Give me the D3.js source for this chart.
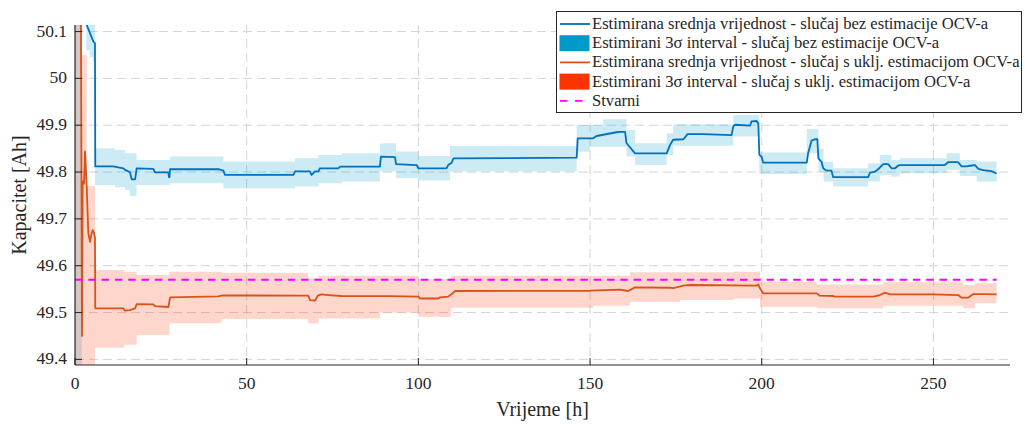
<!DOCTYPE html>
<html><head><meta charset="utf-8">
<script src="https://cdn.jsdelivr.net/npm/d3@7"></script>
<style>
html,body{margin:0;padding:0;background:#fff;}
#wrap{position:relative;width:1025px;height:428px;overflow:hidden;}
svg{position:absolute;left:0;top:0;}
.lbl{position:absolute;font-family:'Liberation Serif';line-height:1;white-space:nowrap;color:#262626;}
</style>
</head><body>
<div id="wrap"><svg id="chart" width="1025" height="428"></svg></div>
<script>
// ---------- data ----------
const xTicks = [0, 50, 100, 150, 200, 250];
const xTickLabels = ["0", "50", "100", "150", "200", "250"];
const yTicks = [49.4, 49.5, 49.6, 49.7, 49.8, 49.9, 50.0, 50.1];
const yTickLabels = ["49.4", "49.5", "49.6", "49.7", "49.8", "49.9", "50", "50.1"];

// mean, case without OCV estimation
const blueT = [0, 2.0, 3.4, 5.33, 5.82, 5.9, 11.16, 14.08, 14.56, 16.0, 16.5, 17.5, 17.96, 22.8, 23.3, 27.2, 27.35, 27.5, 27.7, 41.7, 43.2, 43.7, 63.6, 64.1, 68.4, 68.9, 69.9, 70.9, 71.3, 76.7, 77.2, 88.8, 89.1, 93.2, 93.5, 99.5, 100.0, 108.2, 108.7, 109.7, 110.2, 146.1, 146.4, 150.9, 151.9, 157.7, 158.7, 160.2, 160.6, 163.1, 172.3, 173.3, 174.2, 177.2, 178.4, 183.0, 191.2, 191.7, 192.2, 196.6, 197.0, 198.5, 199.0, 199.3, 200.0, 200.4, 213.1, 213.5, 214.5, 215.5, 216.2, 216.5, 217.4, 217.9, 218.9, 220.3, 220.8, 231.0, 231.5, 233.0, 233.9, 235.4, 236.8, 237.8, 238.8, 239.8, 240.2, 253.3, 254.3, 257.2, 258.2, 259.7, 261.1, 262.1, 263.1, 264.5, 266.9, 268.4];
const blueV = [50.6, 50.3, 50.114, 50.079, 50.075, 49.812, 49.812, 49.808, 49.8045, 49.80, 49.7845, 49.7845, 49.808, 49.8066, 49.7995, 49.7995, 49.789, 49.789, 49.806, 49.806, 49.803, 49.7938, 49.7938, 49.8016, 49.8016, 49.7938, 49.8016, 49.8016, 49.808, 49.808, 49.8116, 49.8116, 49.833, 49.832, 49.817, 49.815, 49.808, 49.808, 49.815, 49.82, 49.829, 49.831, 49.872, 49.872, 49.877, 49.885, 49.886, 49.886, 49.862, 49.840, 49.840, 49.858, 49.869, 49.870, 49.881, 49.881, 49.879, 49.897, 49.901, 49.899, 49.908, 49.909, 49.904, 49.837, 49.832, 49.820, 49.820, 49.840, 49.867, 49.870, 49.870, 49.829, 49.822, 49.808, 49.803, 49.803, 49.789, 49.789, 49.799, 49.801, 49.806, 49.817, 49.817, 49.808, 49.808, 49.814, 49.815, 49.815, 49.821, 49.821, 49.812, 49.812, 49.814, 49.815, 49.807, 49.804, 49.802, 49.797];

// 3-sigma band, case without OCV estimation (step starts)
const blueBandT = [0, 1.95, 3.3, 4.3, 5.3, 5.82, 11.65, 14.56, 16.0, 17.96, 27.7, 43.2, 64.1, 70.9, 77.7, 88.8, 93.5, 100.0, 109.2, 146.1, 150.0, 153.8, 160.6, 163.1, 172.3, 174.2, 191.7, 199.3, 213.1, 216.5, 218.0, 220.8, 231.0, 234.4, 237.8, 240.2, 253.8, 257.7, 262.6, 268.4];
const blueLo = [49.0, 50.3, 50.06, 50.045, 50.036, 49.7725, 49.7675, 49.7618, 49.749, 49.7725, 49.776, 49.7653, 49.7689, 49.776, 49.7796, 49.801, 49.7867, 49.7817, 49.801, 49.8436, 49.854, 49.854, 49.833, 49.815, 49.8365, 49.856, 49.8757, 49.7959, 49.84, 49.80, 49.7796, 49.7689, 49.7796, 49.7938, 49.79, 49.7974, 49.8045, 49.7916, 49.7796, 49.7796];
const blueHi = [51.0, 50.6, 50.6, 50.6, 50.6, 49.851, 49.847, 49.840, 49.840, 49.826, 49.833, 49.8223, 49.8294, 49.8365, 49.8401, 49.8615, 49.844, 49.8344, 49.8558, 49.9007, 49.9007, 49.9128, 49.89, 49.8616, 49.8828, 49.902, 49.922, 49.8415, 49.892, 49.85, 49.822, 49.808, 49.8187, 49.8365, 49.8258, 49.8294, 49.8401, 49.8258, 49.8223, 49.8223];

// mean, case with OCV estimation
const redT = [0, 1.6, 2.04, 2.24, 2.62, 2.91, 3.41, 3.87, 4.37, 4.86, 5.15, 5.53, 5.82, 5.9, 14.08, 14.56, 16.0, 17.5, 17.96, 22.8, 23.3, 27.2, 27.7, 41.7, 42.7, 43.2, 67.9, 68.4, 69.9, 70.7, 71.8, 73.8, 77.7, 91.7, 100.0, 100.5, 105.8, 106.3, 108.7, 109.7, 110.7, 150.0, 158.7, 161.1, 163.1, 173.3, 174.2, 177.2, 179.1, 198.5, 199.0, 199.5, 200.4, 216.0, 216.9, 220.8, 221.3, 232.5, 234.4, 235.9, 237.3, 250.0, 257.2, 258.2, 260.1, 261.6, 264.5, 268.4];
const redV = [50.6, 50.4, 49.45, 49.78, 49.775, 49.844, 49.769, 49.67, 49.651, 49.67, 49.676, 49.67, 49.66, 49.509, 49.509, 49.504, 49.5053, 49.509, 49.518, 49.5175, 49.5139, 49.5118, 49.5324, 49.5345, 49.536, 49.5367, 49.536, 49.5267, 49.5253, 49.536, 49.5388, 49.5374, 49.5353, 49.535, 49.534, 49.530, 49.530, 49.5324, 49.534, 49.5395, 49.546, 49.5466, 49.5488, 49.546, 49.5538, 49.553, 49.5523, 49.5574, 49.5588, 49.5574, 49.5602, 49.5516, 49.541, 49.541, 49.536, 49.5353, 49.5339, 49.5339, 49.5374, 49.5424, 49.5388, 49.5388, 49.5374, 49.5317, 49.5317, 49.5395, 49.5395, 49.5388];

// 3-sigma band, case with OCV estimation (step starts)
const redBandT = [0, 1.95, 3.41, 5.82, 14.3, 17.96, 27.5, 42.7, 67.9, 70.9, 88.8, 100.0, 109.5, 151.0, 161.6, 176.2, 191.7, 199.5, 216.0, 235.4, 258.7, 262.1, 268.4];
const redLo = [49.0, 49.0, 49.0, 49.425, 49.431, 49.452, 49.477, 49.486, 49.477, 49.4875, 49.5003, 49.491, 49.5103, 49.5146, 49.5232, 49.5267, 49.530, 49.5125, 49.509, 49.5146, 49.509, 49.5196, 49.5196];
const redHi = [51.0, 50.05, 49.77, 49.591, 49.587, 49.58, 49.587, 49.585, 49.573, 49.5787, 49.5787, 49.5716, 49.5787, 49.5787, 49.5858, 49.5858, 49.587, 49.566, 49.560, 49.5645, 49.559, 49.5623, 49.5623];

// true capacity
const trueT = [0, 268.4];
const trueV = [49.57, 49.57];

const legendLabels = [
  "Estimirana srednja vrijednost - slučaj bez estimacije OCV-a",
  "Estimirani 3\u03C3 interval - slučaj bez estimacije OCV-a",
  "Estimirana srednja vrijednost - slučaj s uklj. estimacijom OCV-a",
  "Estimirani 3\u03C3 interval - slučaj s uklj. estimacijom OCV-a",
  "Stvarni"
];

// ---------- drawing ----------
const C = {blue: "#0072BD", blueFill: "#0099CC", red: "#D95319", redFill: "#FF3300", mag: "#FF00FF", axis: "#262626", grid: "#d4d4d4"};
const svg = d3.select("#chart");
const wrap = d3.select("#wrap");
svg.append("rect").attr("width", 1025).attr("height", 428).attr("fill", "#fff");

const L = 75, R = 1010, T = 25, B = 365;
const x = d3.scaleLinear().domain([0, 272.3]).range([L, R]);
const y = d3.scaleLinear().domain([49.388, 50.114]).range([B, T]);

svg.append("defs").append("clipPath").attr("id", "clip")
  .append("rect").attr("x", L).attr("y", T).attr("width", R - L).attr("height", B - T);

// grid
const grid = svg.append("g");
grid.selectAll("line.gx").data(xTicks.filter(d => d > 0)).join("line")
  .attr("x1", d => x(d)).attr("x2", d => x(d)).attr("y1", T).attr("y2", B)
  .attr("stroke", C.grid).attr("stroke-width", 1).attr("stroke-dasharray", "9,5");
grid.selectAll("line.gy").data(yTicks).join("line")
  .attr("y1", d => y(d)).attr("y2", d => y(d)).attr("x1", L).attr("x2", R)
  .attr("stroke", C.grid).attr("stroke-width", 1).attr("stroke-dasharray", "9,5");

const plot = svg.append("g").attr("clip-path", "url(#clip)");

function band(ts, lo, hi) {
  return d3.area().curve(d3.curveStepAfter)
    .x((d, i) => x(ts[i])).y0((d, i) => y(lo[i])).y1((d, i) => y(hi[i]))(ts);
}
plot.append("path").attr("d", band(blueBandT, blueLo, blueHi))
  .attr("fill", C.blueFill).attr("fill-opacity", 0.2);
plot.append("path").attr("d", band(redBandT, redLo, redHi))
  .attr("fill", C.redFill).attr("fill-opacity", 0.2);

function line(ts, vs) {
  return d3.line().x((d, i) => x(ts[i])).y((d, i) => y(vs[i]))(ts);
}
plot.append("path").attr("d", line(blueT, blueV)).attr("fill", "none")
  .attr("stroke", C.blue).attr("stroke-width", 1.8).attr("stroke-linejoin", "round");
plot.append("path").attr("d", line(redT, redV)).attr("fill", "none")
  .attr("stroke", C.red).attr("stroke-width", 1.8).attr("stroke-linejoin", "round");
plot.append("path").attr("d", line(trueT, trueV)).attr("fill", "none")
  .attr("stroke", C.mag).attr("stroke-width", 1.8).attr("stroke-dasharray", "7.5,5.8");

// axes
const ax = svg.append("g").attr("stroke", C.axis).attr("stroke-width", 1.2);
ax.append("line").attr("x1", L).attr("x2", L).attr("y1", T).attr("y2", B);
ax.append("line").attr("x1", L).attr("x2", R).attr("y1", B).attr("y2", B);
ax.selectAll("line.tx").data(xTicks).join("line")
  .attr("x1", d => x(d)).attr("x2", d => x(d)).attr("y1", B).attr("y2", B - 7).attr("stroke-width", 1);
ax.selectAll("line.ty").data(yTicks).join("line")
  .attr("y1", d => y(d)).attr("y2", d => y(d)).attr("x1", L).attr("x2", L + 7).attr("stroke-width", 1);

// legend box and swatches
const lg = svg.append("g");
lg.append("rect").attr("x", 556.5).attr("y", 11.5).attr("width", 465).attr("height", 101)
  .attr("fill", "#fff").attr("stroke", C.axis).attr("stroke-width", 1);
const rowY = i => 24 + i * 19.2;
const kinds = [
  {t: "line", c: C.blue}, {t: "rect", c: C.blueFill},
  {t: "line", c: C.red}, {t: "rect", c: C.redFill},
  {t: "dash", c: C.mag}
];
kinds.forEach((k, i) => {
  const cy = rowY(i);
  if (k.t === "rect") {
    lg.append("rect").attr("x", 559.5).attr("y", cy - 8).attr("width", 30).attr("height", 16).attr("fill", k.c);
  } else {
    lg.append("line").attr("x1", 560).attr("x2", 590).attr("y1", cy).attr("y2", cy)
      .attr("stroke", k.c).attr("stroke-width", 1.8)
      .attr("stroke-dasharray", k.t === "dash" ? "7.5,7.5" : null);
  }
});

// ---------- text (HTML labels placed with the same scales) ----------
function label(left, top, size, transform, s) {
  return wrap.append("div").attr("class", "lbl")
    .style("left", left + "px").style("top", top + "px")
    .style("font-size", size + "px").style("transform", transform).text(s);
}
xTicks.forEach((d, i) => label(x(d), 390 - 0.8375 * 17.5, 17.5, "translate(-50%,0)", xTickLabels[i]));
yTicks.forEach((d, i) => label(67, y(d), 17.5, "translate(-100%,-50%)", yTickLabels[i]));
label((L + R) / 2, 416 - 0.8375 * 20, 20, "translate(-50%,0)", "Vrijeme [h]");
label(26 - 0.3375 * 20, (T + B) / 2, 20, "translate(-50%,-50%) rotate(-90deg)", "Kapacitet [Ah]");
legendLabels.forEach((s, i) => label(592, rowY(i), 16.6, "translate(0,-50%)", s));
</script>
</body></html>
